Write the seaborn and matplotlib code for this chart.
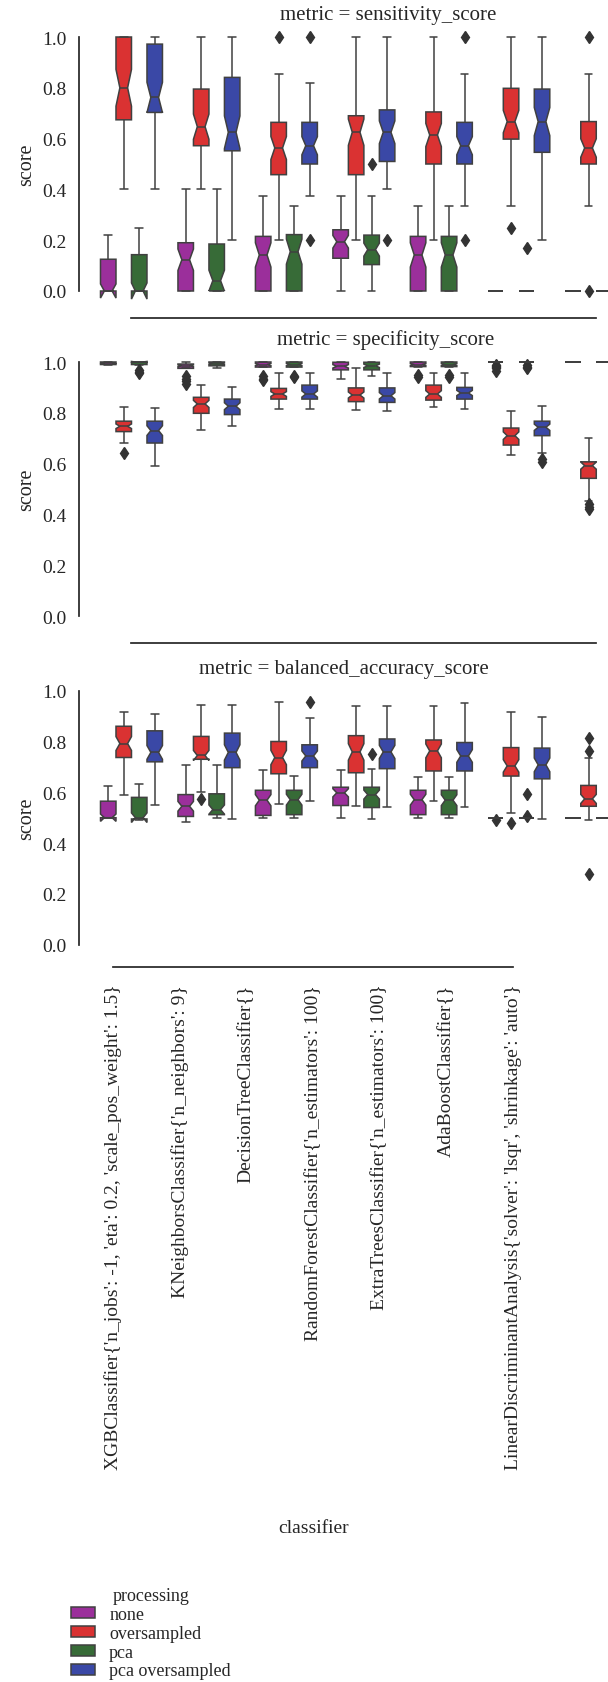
import pandas as pd
import matplotlib.pyplot as plt
import seaborn as sns

# categorias e niveis
classifiers = [
    "XGBClassifier{'n_jobs': -1, 'eta': 0.2, 'scale_pos_weight': 1.5}",
    "KNeighborsClassifier{'n_neighbors': 9}",
    "DecisionTreeClassifier{}",
    "RandomForestClassifier{'n_estimators': 100}",
    "ExtraTreesClassifier{'n_estimators': 100}",
    "AdaBoostClassifier{}",
    "LinearDiscriminantAnalysis{'solver': 'lsqr', 'shrinkage': 'auto'}",
]
processing = ["none", "oversampled", "pca", "pca oversampled"]
metrics = ["sensitivity_score", "specificity_score", "balanced_accuracy_score"]
colors = ["#9b2f9b", "#da3232", "#376b37", "#3a48a6"]

# resumo: (min, q1, mediana, q3, max) + outliers, um por classificador
sens_none = [(0, 0, 0, 0.125, 0.222), (0, 0, 0.123, 0.19, 0.40), (0, 0, 0.142, 0.215, 0.375),
             (0, 0.129, 0.194, 0.241, 0.375), (0, 0, 0.142, 0.215, 0.333), (0, 0, 0, 0, 0), (0, 0, 0, 0, 0)]
sens_none_out = [[], [], [], [], [], [], []]
sens_over = [(0.40, 0.674, 0.80, 1.0, 1.0), (0.40, 0.572, 0.647, 0.795, 1.0), (0.20, 0.458, 0.563, 0.664, 0.854),
             (0.20, 0.458, 0.625, 0.69, 1.0), (0.20, 0.50, 0.614, 0.705, 1.0), (0.333, 0.598, 0.667, 0.798, 1.0),
             (0.333, 0.50, 0.563, 0.667, 0.854)]
sens_over_out = [[], [], [1.0], [], [], [0.25], [1.0, 0.0]]
sens_pca = [(0, 0, 0, 0.143, 0.25), (0, 0, 0.041, 0.185, 0.40), (0, 0, 0.155, 0.222, 0.333),
            (0, 0.104, 0.163, 0.22, 0.375), (0, 0, 0.142, 0.215, 0.333), (0, 0, 0, 0, 0), (0, 0, 0, 0, 0)]
sens_pca_out = [[], [], [], [0.50], [], [0.168], []]
sens_pcaover = [(0.40, 0.703, 0.762, 0.972, 1.0), (0.20, 0.552, 0.625, 0.841, 1.0), (0.375, 0.50, 0.572, 0.664, 0.818),
                (0.40, 0.51, 0.625, 0.713, 1.0), (0.333, 0.50, 0.572, 0.664, 0.854), (0.20, 0.546, 0.667, 0.795, 1.0),
                None]
sens_pcaover_out = [[], [], [1.0, 0.2], [0.2], [1.0, 0.2], [], []]

spec_none = [(0.99, 0.99, 0.995, 1.0, 1.0), (0.975, 0.975, 0.985, 0.992, 0.999), (0.98, 0.98, 0.99, 1.0, 1.0),
             (0.933, 0.969, 0.983, 0.999, 1.0), (0.982, 0.982, 0.99, 1.0, 1.0), (1.0, 1.0, 1.0, 1.0, 1.0),
             (1.0, 1.0, 1.0, 1.0, 1.0)]
spec_none_out = [[], [0.945, 0.935, 0.925, 0.915], [0.945, 0.935, 0.93], [], [0.95, 0.94],
                 [0.99, 0.985, 0.98, 0.975, 0.965], []]
spec_over = [(0.681, 0.726, 0.747, 0.767, 0.824), (0.733, 0.798, 0.835, 0.861, 0.909), (0.815, 0.854, 0.874, 0.896, 0.957),
             (0.812, 0.844, 0.87, 0.898, 0.976), (0.824, 0.85, 0.874, 0.909, 0.957), (0.635, 0.673, 0.71, 0.74, 0.808),
             (0.454, 0.542, 0.592, 0.607, 0.70)]
spec_over_out = [[0.642], [], [], [], [], [], [0.44, 0.43, 0.42]]
spec_pca = [(0.99, 0.99, 1.0, 1.0, 1.0), (0.975, 0.985, 0.993, 1.0, 1.0), (0.98, 0.98, 0.99, 1.0, 1.0),
            (0.944, 0.969, 0.985, 0.999, 1.0), (0.982, 0.982, 0.99, 1.0, 1.0), (1.0, 1.0, 1.0, 1.0, 1.0),
            (1.0, 1.0, 1.0, 1.0, 1.0)]
spec_pca_out = [[0.97, 0.96, 0.955], [], [0.945, 0.94], [], [0.95, 0.94], [0.99, 0.98, 0.975], []]
spec_pcaover = [(0.592, 0.681, 0.73, 0.767, 0.818), (0.749, 0.793, 0.826, 0.854, 0.90), (0.815, 0.854, 0.874, 0.909, 0.957),
                (0.808, 0.841, 0.867, 0.898, 0.957), (0.815, 0.854, 0.878, 0.90, 0.957), (0.64, 0.71, 0.743, 0.767, 0.828),
                None]
spec_pcaover_out = [[], [], [], [], [], [0.62, 0.605], []]

bal_none = [(0.50, 0.50, 0.50, 0.565, 0.624), (0.483, 0.505, 0.545, 0.591, 0.706), (0.499, 0.509, 0.569, 0.608, 0.688),
            (0.499, 0.548, 0.598, 0.62, 0.688), (0.499, 0.512, 0.571, 0.608, 0.661), (0.50, 0.50, 0.50, 0.50, 0.50),
            (0.50, 0.50, 0.50, 0.50, 0.50)]
bal_none_out = [[], [], [], [], [], [0.49], []]
bal_over = [(0.591, 0.737, 0.792, 0.86, 0.915), (0.60, 0.73, 0.745, 0.82, 0.944), (0.552, 0.673, 0.737, 0.80, 0.955),
            (0.548, 0.677, 0.759, 0.823, 0.938), (0.567, 0.684, 0.763, 0.806, 0.938), (0.519, 0.664, 0.704, 0.776, 0.918),
            (0.492, 0.545, 0.574, 0.627, 0.737)]
bal_over_out = [[], [0.574], [], [], [], [0.481], [0.763, 0.812, 0.28]]
bal_pca = [(0.49, 0.495, 0.50, 0.58, 0.631), (0.499, 0.512, 0.532, 0.594, 0.706), (0.499, 0.512, 0.571, 0.608, 0.664),
           (0.495, 0.54, 0.591, 0.62, 0.693), (0.499, 0.512, 0.569, 0.608, 0.661), (0.50, 0.50, 0.50, 0.50, 0.50),
           (0.50, 0.50, 0.50, 0.50, 0.50)]
bal_pca_out = [[], [], [], [0.75], [], [0.507, 0.595], []]
bal_pcaover = [(0.549, 0.72, 0.757, 0.842, 0.909), (0.495, 0.697, 0.757, 0.833, 0.942), (0.565, 0.697, 0.743, 0.787, 0.892),
               (0.541, 0.693, 0.759, 0.81, 0.938), (0.541, 0.684, 0.743, 0.796, 0.952), (0.496, 0.653, 0.708, 0.774, 0.896),
               None]
bal_pcaover_out = [[], [], [0.955], [], [], [], []]

tables = {
    "sensitivity_score": [(sens_none, sens_none_out), (sens_over, sens_over_out),
                          (sens_pca, sens_pca_out), (sens_pcaover, sens_pcaover_out)],
    "specificity_score": [(spec_none, spec_none_out), (spec_over, spec_over_out),
                          (spec_pca, spec_pca_out), (spec_pcaover, spec_pcaover_out)],
    "balanced_accuracy_score": [(bal_none, bal_none_out), (bal_over, bal_over_out),
                                (bal_pca, bal_pca_out), (bal_pcaover, bal_pcaover_out)],
}


# os folds de cada caixa (~50) reconstruidos a partir do resumo
def folds(summary, extra):
    lo, q1, med, q3, hi = summary
    return [lo] + [q1] * 14 + [med] * 20 + [q3] * 14 + [hi] + list(extra)


rows = []
for metric in metrics:
    for proc, (summ, outs) in zip(processing, tables[metric]):
        for clf, s, o in zip(classifiers, summ, outs):
            if s is None:
                continue
            for v in folds(s, o):
                rows.append({"metric": metric, "processing": proc, "classifier": clf, "score": v})
df = pd.DataFrame(rows)

sns.set_theme(style="white")
plt.rcParams["font.family"] = ["Liberation Serif", "DejaVu Serif"]

g = sns.catplot(data=df, x="classifier", y="score", hue="processing", row="metric", kind="box",
                order=classifiers, hue_order=processing, row_order=metrics, palette=colors,
                saturation=1, notch=True, linecolor="#404040", linewidth=1.1,
                flierprops=dict(marker="d", markerfacecolor="#333333", markeredgecolor="#333333", markersize=6),
                height=5, aspect=1.1)
fig = g.figure
fig.set_size_inches(6.08, 16.83)

W, H = 608, 1683
tops = [25.3, 350.3, 679.0]
axh = 279.4
for ax, top in zip(g.axes.flat, tops):
    ax.set_position([92.75 / W, 1 - (top + axh) / H, 542.25 / W, axh / H])
    ax.set_ylim(-0.05, 1.05)
    ax.set_yticks([0, 0.2, 0.4, 0.6, 0.8, 1.0])
    ax.tick_params(axis="y", labelsize=14, length=0, pad=9)
    ax.set_ylabel("score", fontsize=14.5)

g.set_titles(row_template="metric = {row_name}", size=15, pad=3)
for ax, cx in zip(g.axes.flat, [0.545, 0.541, 0.464]):
    ax.title.set_x(cx)

sns.despine(fig=fig, offset=10, trim=True)

last = g.axes.flat[-1]
last.tick_params(labelbottom=False)
last.set_xlabel("")
last.spines["bottom"].set_visible(False)

# eixo dos rotulos (faixa inferior reduzida)
lab = fig.add_axes([79.7 / W, 1 - 968 / H, 467 / W, 1e-4])
lab.set_xlim(-0.5, len(classifiers) - 0.5)
lab.set_xticks(range(len(classifiers)))
lab.set_xticklabels(classifiers, rotation=90, fontsize=14)
lab.set_yticks([])
for s in ["top", "left", "right"]:
    lab.spines[s].set_visible(False)
lab.spines["bottom"].set_bounds(0, len(classifiers) - 1)
lab.tick_params(axis="x", length=0, pad=12)
lab.set_xlabel("classifier", fontsize=14, labelpad=36)
lab.patch.set_visible(False)

sns.move_legend(g, "upper left", bbox_to_anchor=(55 / W, 1 - 1572 / H), frameon=False,
                fontsize=13, title_fontsize=13, handlelength=1.3, handleheight=0.55, labelspacing=0.1)

fig.savefig("out.png", dpi=100)
